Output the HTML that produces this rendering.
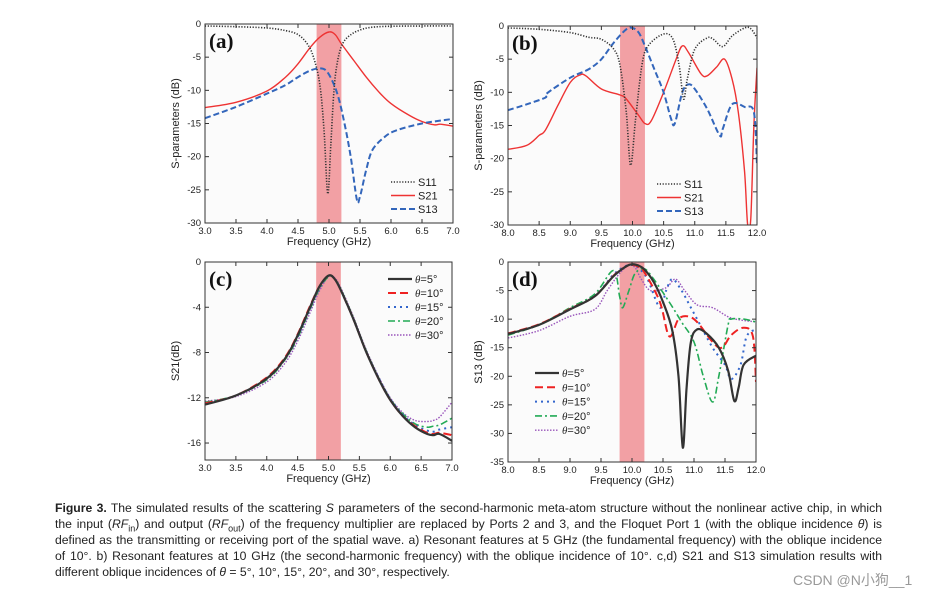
<!DOCTYPE html>
<html><head><meta charset="utf-8">
<style>
body{margin:0;background:#fff;width:937px;height:596px;overflow:hidden;position:relative;font-family:"Liberation Sans",sans-serif}
svg{position:absolute;left:0;top:0}
#cap{position:absolute;left:55px;top:500px;width:827px;font-family:"Liberation Sans",sans-serif;font-size:12.2px;line-height:16px;color:#222}
#cap div{text-align:justify;text-align-last:justify;white-space:nowrap;height:16px;overflow:visible}
#cap div.last{text-align-last:left}
#wm{position:absolute;left:793px;top:570px;font-size:14px;color:#999;font-family:"Liberation Sans","Noto Sans CJK SC",sans-serif}
</style></head><body>
<svg id="fig" width="937" height="596"></svg>
<div id="cap">
<div><b>Figure 3.</b> The simulated results of the scattering <i>S</i> parameters of the second-harmonic meta-atom structure without the nonlinear active chip, in which</div>
<div>the input (<i>RF</i><sub style="font-size:9px;line-height:0">in</sub>) and output (<i>RF</i><sub style="font-size:9px;line-height:0">out</sub>) of the frequency multiplier are replaced by Ports 2 and 3, and the Floquet Port 1 (with the oblique incidence <i>θ</i>) is</div>
<div>defined as the transmitting or receiving port of the spatial wave. a) Resonant features at 5 GHz (the fundamental frequency) with the oblique incidence</div>
<div>of 10°. b) Resonant features at 10 GHz (the second-harmonic frequency) with the oblique incidence of 10°. c,d) S21 and S13 simulation results with</div>
<div class="last">different oblique incidences of <i>θ</i> = 5°, 10°, 15°, 20°, and 30°, respectively.</div>
</div>
<div id="wm">CSDN @N小狗__1</div>
<script>
// Panel (a)
const aS11x=[3,3.5,4,4.3,4.5,4.65,4.75,4.85,4.92,4.98,5.03,5.08,5.13,5.2,5.3,5.5,5.8,6.5,7];
const aS11y=[-0.3,-0.4,-0.6,-1,-1.6,-3,-5,-9,-16,-25.6,-18,-10,-6,-3.4,-2,-0.9,-0.4,-0.3,-0.3];
const aS21x=[3,3.5,4,4.3,4.5,4.7,4.85,5,5.1,5.2,5.4,5.6,5.8,6,6.3,6.5,6.7,6.8,7];
const aS21y=[-12.6,-11.8,-10.1,-8,-6,-3.5,-2,-1.2,-1.6,-3,-5.5,-8,-10.2,-12,-13.8,-14.7,-15.2,-15.1,-15.4];
const aS13x=[3,3.5,4,4.3,4.5,4.7,4.85,4.95,5.05,5.15,5.25,5.35,5.45,5.5,5.6,5.7,5.9,6.1,6.5,7];
const aS13y=[-14.2,-12.5,-10.5,-9.2,-8,-7,-6.7,-7,-8.5,-11,-15,-20,-26.5,-26,-22,-19,-17,-16,-15,-14.3];
// Panel (b)
const bS11x=[8,8.5,9,9.3,9.5,9.7,9.8,9.9,9.97,10.05,10.15,10.25,10.5,10.65,10.75,10.82,10.88,11,11.2,11.3,11.45,11.6,11.8,11.9,12];
const bS11y=[-0.3,-0.5,-1,-1.7,-2,-3.5,-6,-13,-21,-14,-6,-3,-1.2,-2,-6,-11,-8,-3.5,-1.8,-2,-3.1,-1.5,-0.3,-0.4,-1.8];
const bS21x=[8,8.3,8.5,8.6,8.8,9,9.15,9.25,9.5,9.8,9.9,10.1,10.2,10.3,10.5,10.7,10.8,10.9,11.1,11.2,11.35,11.48,11.6,11.7,11.8,11.85,11.9,11.95,12];
const bS21y=[-18.6,-18,-16.5,-15.7,-12,-8.5,-7.4,-7.5,-9.5,-10.4,-11,-13.5,-14.7,-14.3,-10,-5,-3,-4,-7.2,-7.5,-6.2,-5,-8,-13,-22,-30,-29,-15,-6.3];
const bS13x=[8,8.3,8.6,8.62,9,9.3,9.5,9.7,9.9,10,10.1,10.2,10.35,10.5,10.62,10.68,10.8,10.9,11,11.2,11.4,11.45,11.6,11.8,11.95,12];
const bS13y=[-12.7,-11.8,-10.8,-10.2,-7.8,-6.5,-5,-2.5,-0.5,-0.3,-1,-3,-6.5,-10,-14,-14.7,-10,-8.8,-9.5,-12.5,-16.5,-15.5,-11.8,-12.2,-13,-21];
// Panel (c)
const cX=[3,3.5,4,4.3,4.5,4.7,4.85,5,5.1,5.2,5.4,5.6,5.8,6,6.2,6.4,6.6,6.7,6.8,7];
const cT5=[-12.6,-11.8,-10.3,-8.5,-6.5,-4,-2.2,-1.2,-1.5,-2.5,-5,-7.8,-10.2,-12.2,-13.6,-14.6,-15.2,-15.3,-15.2,-15.8];
const cT10=[-12.5,-11.8,-10.2,-8.4,-6.4,-3.9,-2.2,-1.2,-1.5,-2.5,-5,-7.8,-10.2,-12.2,-13.6,-14.5,-15.1,-15.2,-15.1,-15.3];
const cT15=[-12.5,-11.8,-10.3,-8.5,-6.6,-4.1,-2.3,-1.2,-1.5,-2.5,-5,-7.8,-10.1,-12.1,-13.5,-14.4,-14.9,-15,-14.8,-14.6];
const cT20=[-12.4,-11.8,-10.4,-8.6,-6.7,-4.2,-2.4,-1.3,-1.5,-2.4,-4.9,-7.7,-10.1,-12.1,-13.4,-14.3,-14.6,-14.5,-14.4,-13.8];
const cT30=[-12.3,-11.9,-10.6,-8.9,-7,-4.5,-2.6,-1.3,-1.4,-2.3,-4.8,-7.6,-10,-12,-13.3,-14,-14.1,-14,-13.7,-12.4];
// Panel (d)
const dT5x=[8,8.5,9,9.4,9.7,9.9,10,10.1,10.2,10.35,10.5,10.65,10.75,10.82,10.88,10.95,11.05,11.2,11.4,11.55,11.65,11.72,11.8,12];
const dT5y=[-12.6,-11,-8.3,-6,-2.5,-0.8,-0.4,-0.6,-1.3,-3.5,-7,-12,-20,-32.5,-22,-14,-11.8,-12.5,-15,-19,-24.3,-22,-18,-16.4];
const dT10x=[8,8.5,9,9.4,9.7,9.9,10,10.1,10.2,10.45,10.6,10.75,10.9,11.05,11.3,11.45,11.6,11.8,11.95,12];
const dT10y=[-12.5,-10.9,-8.2,-6,-2.4,-0.8,-0.5,-0.8,-1.8,-7,-13,-10,-9.5,-10.5,-14,-15,-12.8,-11.5,-13,-21];
const dT15x=[8,8.5,9,9.4,9.7,9.9,10,10.1,10.25,10.45,10.55,10.65,10.8,10.95,11.1,11.3,11.5,11.6,11.75,11.85,12];
const dT15y=[-12.5,-11,-8.2,-6,-2.2,-0.7,-0.5,-1,-3,-8,-5,-3,-5,-8,-11,-15,-18,-20.5,-18,-13,-11.8];
const dT20x=[8,8.5,9,9.4,9.7,9.8,9.85,9.95,10.05,10.2,10.35,10.6,10.8,11,11.15,11.3,11.4,11.55,11.6,11.8,12];
const dT20y=[-12.8,-11,-8,-5.6,-1.5,-6,-8,-5,-2,-1.2,-3,-7,-10.5,-14,-20,-24.5,-20,-11,-10,-10,-10.5];
const dT30x=[8,8.5,9,9.4,9.6,9.8,9.95,10.05,10.15,10.3,10.55,10.7,10.85,11.05,11.3,11.6,12];
const dT30y=[-13.3,-12,-9.5,-8.3,-5,-2,-0.6,-1,-3,-5,-4.5,-3,-5,-7.5,-8,-9.8,-10.5];

const svg=document.getElementById('fig');
const NS='http://www.w3.org/2000/svg';
function mk(tag,attrs,parent,txt){const e=document.createElementNS(NS,tag);for(const k in attrs)e.setAttribute(k,attrs[k]);if(txt!==undefined)e.textContent=txt;(parent||svg).appendChild(e);return e;}
function pathD(xs,ys,sx,sy){const P=xs.map((x,i)=>[sx(x),sy(ys[i])]);let d='M'+P[0][0].toFixed(1)+','+P[0][1].toFixed(1);
 for(let i=0;i<P.length-1;i++){const p0=P[Math.max(0,i-1)],p1=P[i],p2=P[i+1],p3=P[Math.min(P.length-1,i+2)];
  const c1=[p1[0]+(p2[0]-p0[0])/6,p1[1]+(p2[1]-p0[1])/6],c2=[p2[0]-(p3[0]-p1[0])/6,p2[1]-(p3[1]-p1[1])/6];
  d+=' C'+c1[0].toFixed(1)+','+c1[1].toFixed(1)+' '+c2[0].toFixed(1)+','+c2[1].toFixed(1)+' '+p2[0].toFixed(1)+','+p2[1].toFixed(1);}
 return d;}
const styles={
 s11:{stroke:'#333',w:1.6,dash:'1.2 1.6'},s21:{stroke:'#ee3333',w:1.4,dash:''},s13:{stroke:'#3366bb',w:2,dash:'6 3'},
 t5:{stroke:'#333',w:2.2,dash:''},t10:{stroke:'#ee2222',w:2,dash:'8 4'},t15:{stroke:'#3366cc',w:2,dash:'2 4'},
 t20:{stroke:'#22aa55',w:1.6,dash:'7 3 2 3'},t30:{stroke:'#9955bb',w:1.4,dash:'1.5 1.5'}};
let clipN=0;
function panel(p){
 const g=mk('g',{});
 
 
 const sx=x=>p.L+(x-p.x0)/(p.x1-p.x0)*(p.R-p.L);
 const sy=y=>p.T+(p.y0-y)/(p.y0-p.y1)*(p.B-p.T);
 mk('rect',{x:p.L,y:p.T,width:p.R-p.L,height:p.B-p.T,fill:'#fbfbfb'},g);
 const band=mk('rect',{x:sx(p.band[0]),y:p.T,width:sx(p.band[1])-sx(p.band[0]),height:p.B-p.T,fill:'#f2a0a4'},g);
 
 
 const cid='clip'+(clipN++);const cp=mk('clipPath',{id:cid},g);mk('rect',{x:p.L,y:p.T,width:p.R-p.L,height:p.B-p.T},cp);
 const sg=mk('g',{'clip-path':'url(#'+cid+')'},g);
 p.series.forEach(s=>{const st=styles[s.k];
  const e=mk('path',{d:pathD(s.x,s.y,sx,sy),fill:'none',stroke:st.stroke,'stroke-width':st.w,'stroke-dasharray':st.dash,'stroke-linejoin':'round'},sg);
  
  });
 mk('rect',{x:p.L,y:p.T,width:p.R-p.L,height:p.B-p.T,fill:'none',stroke:'#333','stroke-width':1},g);
 p.xt.forEach(v=>{const X=sx(v);mk('line',{x1:X,x2:X,y1:p.B,y2:p.B-4,stroke:'#333'},g);mk('line',{x1:X,x2:X,y1:p.T,y2:p.T+4,stroke:'#333'},g);
  const t=mk('text',{x:X,y:p.B+11,'font-size':9.5,'text-anchor':'middle',fill:'#222'},g,v.toFixed(1));
  
  });
 p.yt.forEach(v=>{const Y=sy(v);mk('line',{x1:p.L,x2:p.L+4,y1:Y,y2:Y,stroke:'#333'},g);mk('line',{x1:p.R,x2:p.R-4,y1:Y,y2:Y,stroke:'#333'},g);
  const t=mk('text',{x:p.L-4,y:Y+3,'font-size':9.5,'text-anchor':'end',fill:'#222'},g,String(v));
  
  });
 const xl=mk('text',{x:(p.L+p.R)/2,y:p.B+22,'font-size':11,'text-anchor':'middle',fill:'#222'},g,'Frequency (GHz)');
 
 
 const yl=mk('text',{x:0,y:0,'font-size':11,'text-anchor':'middle',fill:'#222',transform:'translate('+(p.L-26)+','+((p.T+p.B)/2)+') rotate(-90)'},g,p.ylab);
 
 
 const pl=mk('text',{x:p.L+4,y:p.T+24,'font-size':21,'font-weight':'bold','font-family':'Liberation Serif,serif',fill:'#111'},g,'('+p.id+')');
 
 
 p.legend.items.forEach((it,i)=>{const Y=p.legend.y+i*p.legend.dy;const st=styles[it.k];
  const lg=mk('g',{},g);
  
  
  mk('line',{x1:p.legend.x,x2:p.legend.x+24,y1:Y,y2:Y,stroke:st.stroke,'stroke-width':st.w,'stroke-dasharray':st.dash},lg);
  const t=mk('text',{x:p.legend.x+27,y:Y+4,'font-size':11,fill:'#222'},lg);
  if(it.th){mk('tspan',{'font-style':'italic','font-family':'Liberation Serif,serif'},t,'θ');mk('tspan',{},t,'='+it.t);}else t.textContent=it.t;});
}
const thetaLeg=[{k:'t5',t:'5°',th:1},{k:'t10',t:'10°',th:1},{k:'t15',t:'15°',th:1},{k:'t20',t:'20°',th:1},{k:'t30',t:'30°',th:1}];
const sLeg=[{k:'s11',t:'S11'},{k:'s21',t:'S21'},{k:'s13',t:'S13'}];
panel({id:'a',L:205,R:453,T:24,B:223,x0:3,x1:7,y0:0,y1:-30,band:[4.8,5.2],ylab:'S-parameters (dB)',
 xt:[3,3.5,4,4.5,5,5.5,6,6.5,7],yt:[0,-5,-10,-15,-20,-25,-30],
 series:[{k:'s21',x:aS21x,y:aS21y},{k:'s13',x:aS13x,y:aS13y},{k:'s11',x:aS11x,y:aS11y}],
 legend:{x:391,y:182,dy:13.5,items:sLeg}});
panel({id:'b',L:508,R:757,T:26,B:225,x0:8,x1:12,y0:0,y1:-30,band:[9.8,10.2],ylab:'S-parameters (dB)',
 xt:[8,8.5,9,9.5,10,10.5,11,11.5,12],yt:[0,-5,-10,-15,-20,-25,-30],
 series:[{k:'s21',x:bS21x,y:bS21y},{k:'s13',x:bS13x,y:bS13y},{k:'s11',x:bS11x,y:bS11y}],
 legend:{x:657,y:184,dy:13.5,items:sLeg}});
panel({id:'c',L:205,R:452,T:262,B:460,x0:3,x1:7,y0:0,y1:-17.5,band:[4.8,5.2],ylab:'S21(dB)',
 xt:[3,3.5,4,4.5,5,5.5,6,6.5,7],yt:[0,-4,-8,-12,-16],
 series:[{k:'t30',x:cX,y:cT30},{k:'t20',x:cX,y:cT20},{k:'t15',x:cX,y:cT15},{k:'t10',x:cX,y:cT10},{k:'t5',x:cX,y:cT5}],
 legend:{x:388,y:279,dy:14,items:thetaLeg}});
panel({id:'d',L:508,R:756,T:262,B:462,x0:8,x1:12,y0:0,y1:-35,band:[9.8,10.2],ylab:'S13 (dB)',
 xt:[8,8.5,9,9.5,10,10.5,11,11.5,12],yt:[0,-5,-10,-15,-20,-25,-30,-35],
 series:[{k:'t30',x:dT30x,y:dT30y},{k:'t20',x:dT20x,y:dT20y},{k:'t15',x:dT15x,y:dT15y},{k:'t10',x:dT10x,y:dT10y},{k:'t5',x:dT5x,y:dT5y}],
 legend:{x:535,y:373,dy:14.3,items:thetaLeg}});
</script>
</body></html>
